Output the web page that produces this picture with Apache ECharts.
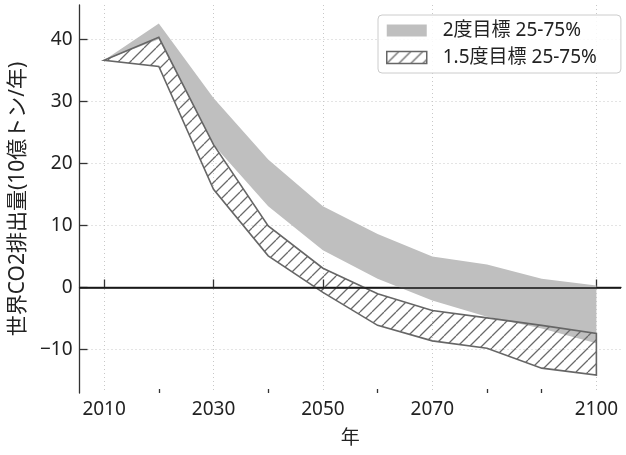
<!DOCTYPE html>
<html>
<head>
<meta charset="utf-8">
<script src="https://cdn.jsdelivr.net/npm/echarts@6/dist/echarts.min.js"></script>
<style>html,body{margin:0;padding:0;background:#fff}#c{width:626px;height:455px}</style>
</head>
<body>
<div id="c"></div>
<script>
const years = [2010, 2020, 2030, 2040, 2050, 2060, 2070, 2080, 2090, 2100];
const deg2Upper = [36.6, 42.5, 30.5, 20.6, 13.1, 8.6, 5.0, 3.7, 1.4, 0.3];
const deg2Lower = [36.6, 40.0, 23.0, 13.1, 6.0, 1.4, -2.1, -4.7, -6.6, -9.0];
const deg15Upper = [36.6, 40.3, 23.0, 9.9, 3.1, -1.0, -3.7, -4.9, -6.1, -7.4];
const deg15Lower = [36.6, 35.6, 15.8, 5.1, -0.8, -6.1, -8.6, -9.8, -13.0, -14.1];
const xMajorTicks = [2010, 2030, 2050, 2070, 2100];
const xMinorTicks = [2020, 2040, 2060, 2080, 2090];
const yTicks = [-10, 0, 10, 20, 30, 40];
const name2 = '2度目標 25-75%';
const name15 = '1.5度目標 25-75%';

const FONT = "'Noto Sans', 'Noto Sans CJK JP', sans-serif";

function makeHatch(color, size, lw) {
  const cv = document.createElement('canvas');
  cv.width = size; cv.height = size;
  const ctx = cv.getContext('2d');
  ctx.strokeStyle = color; ctx.lineWidth = lw;
  ctx.beginPath();
  for (let k = -1; k <= 1; k++) {
    ctx.moveTo(k * size, size);
    ctx.lineTo(k * size + size, 0);
  }
  ctx.stroke();
  return cv;
}
const hatchPattern = { image: makeHatch('#6a6a6a', 12, 1.3), repeat: 'repeat' };

function bandData(lower, upper) {
  return years.map((y, i) => [y, lower[i], upper[i]]);
}
function bandRender(lower, upper, style) {
  return function (params, api) {
    if (params.dataIndex !== 0) return null;
    const pts = [];
    for (let i = 0; i < years.length; i++) pts.push(api.coord([years[i], upper[i]]));
    for (let i = years.length - 1; i >= 0; i--) pts.push(api.coord([years[i], lower[i]]));
    return { type: 'polygon', shape: { points: pts }, style: style };
  };
}

const chart = echarts.init(document.getElementById('c'), null, { renderer: 'canvas' });
chart.setOption({
  animation: false,
  backgroundColor: '#fff',
  textStyle: { fontFamily: FONT },
  grid: { left: 74, right: 5, top: 5, bottom: 62, containLabel: false },
  legend: {
    orient: 'vertical',
    left: 378, top: 15,
    padding: [6, 24, 6, 8],
    itemWidth: 40, itemHeight: 12, itemGap: 8,
    borderColor: '#cccccc', borderWidth: 1, borderRadius: 4,
    backgroundColor: 'rgba(255,255,255,0.85)',
    textStyle: { fontFamily: FONT, fontSize: 19, color: '#222', padding: [0, 0, 0, 11] },
    data: [
      { name: name2, icon: 'rect', itemStyle: { color: '#bfbfbf', borderWidth: 0 } },
      { name: name15, icon: 'rect', itemStyle: { color: hatchPattern, borderColor: '#666', borderWidth: 1.5 } }
    ]
  },
  xAxis: [{
    type: 'value', min: 2005.5, max: 2104.5,
    name: '年', nameLocation: 'middle', nameGap: 36,
    nameTextStyle: { fontFamily: FONT, fontSize: 19, color: '#222' },
    axisLine: { show: true, lineStyle: { color: '#333', width: 1.3 } },
    axisTick: { show: true, inside: true, length: 8, customValues: xMajorTicks, lineStyle: { color: '#333', width: 1.3, type: 'solid' } },
    axisLabel: { show: true, customValues: xMajorTicks, margin: 7, fontSize: 19, color: '#222', fontFamily: FONT,
      formatter: v => String(v) },
    splitLine: { show: true, lineStyle: { color: '#c8c8c8', type: [1, 3], width: 1 } }
  }, {
    type: 'value', min: 2005.5, max: 2104.5, position: 'bottom',
    axisLine: { show: false },
    axisTick: { show: true, inside: true, length: 4, customValues: xMinorTicks, lineStyle: { color: '#333', width: 1.3, type: 'solid' } },
    axisLabel: { show: false },
    splitLine: { show: false }
  }],
  yAxis: {
    type: 'value', min: -17, max: 45.5,
    name: '世界CO2排出量(10億トン/年)', nameLocation: 'middle', nameGap: 45, nameRotate: 90,
    nameTextStyle: { fontFamily: FONT, fontSize: 21, color: '#222' },
    axisLine: { show: true, lineStyle: { color: '#333', width: 1.3 } },
    axisTick: { show: true, inside: true, length: 8, customValues: yTicks, lineStyle: { color: '#333', width: 1.3 } },
    axisLabel: { show: true, customValues: yTicks, margin: 7, fontSize: 19, color: '#222', fontFamily: FONT,
      formatter: v => String(v).replace('-', '\u2212') },
    splitLine: { show: true, lineStyle: { color: '#c8c8c8', type: [1, 3], width: 1 } }
  },
  series: [
    {
      name: name2, type: 'custom', z: 2,
      itemStyle: { color: '#bfbfbf' },
      data: bandData(deg2Lower, deg2Upper),
      encode: { x: 0, y: [1, 2] },
      renderItem: bandRender(deg2Lower, deg2Upper, { fill: '#bfbfbf', stroke: null })
    },
    {
      name: name15, type: 'custom', z: 3,
      itemStyle: { color: '#888' },
      data: bandData(deg15Lower, deg15Upper),
      encode: { x: 0, y: [1, 2] },
      renderItem: bandRender(deg15Lower, deg15Upper, { fill: hatchPattern, stroke: '#666', lineWidth: 1.6, lineJoin: 'miter' })
    },
    {
      name: 'zero', type: 'line', z: 10, data: [], silent: true,
      markLine: {
        silent: true, symbol: 'none', label: { show: false },
        lineStyle: { color: '#111', type: 'solid', width: 1.5 },
        data: [{ yAxis: 0 }]
      }
    }
  ]
});
</script>
</body>
</html>
